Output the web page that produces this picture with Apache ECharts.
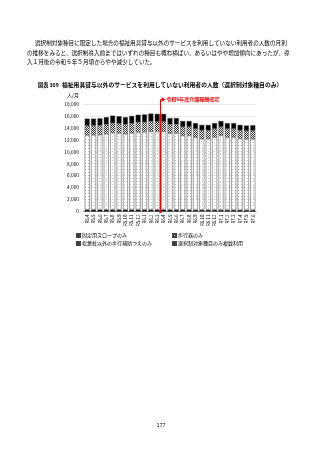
<!DOCTYPE html>
<html><head><meta charset="utf-8">
<script src="https://cdn.jsdelivr.net/npm/echarts@6/dist/echarts.min.js"></script>
<style>html,body{margin:0;padding:0;background:#fff}#c{width:320px;height:453px}</style>
</head><body><div id="c"></div>
<script>
const categories = ['R5.4','R5.5','R5.6','R5.7','R5.8','R5.9','R5.10','R5.11','R5.12','R6.1','R6.2','R6.3','R6.4','R6.5','R6.6','R6.7','R6.8','R6.9','R6.10','R6.11','R6.12','R7.1','R7.2','R7.3','R7.4','R7.5','R7.6'];
const slopeOnly = [300,300,300,300,310,300,300,300,310,310,310,310,310,290,290,280,280,270,270,270,270,270,260,260,260,250,250];
const walkerOnly = [12500,12520,12550,12690,12890,12830,12700,12840,12990,13020,13120,13090,13080,12830,12850,12440,12460,12170,11910,11910,12180,12490,12200,12210,11960,11880,11920];
const caneOnly = [1550,1550,1550,1580,1600,1580,1570,1600,1620,1620,1650,1640,1640,1480,1470,1430,1420,1400,1380,1380,1390,1400,1380,1380,1350,1350,1350];
const multiUse = [1200,1180,1200,1230,1250,1240,1230,1260,1280,1300,1320,1310,1320,1050,1040,1000,990,960,940,940,960,990,960,950,930,920,930];
const seriesNames = ['固定用スロープのみ','歩行器のみ','松葉杖以外の歩行補助つえのみ','選択制対象種目のみ複数利用'];
const yTicks = {min:0, max:18000, interval:2000};
const revisionLabel = '令和6年度介護報酬改定';
const revisionPos = 11.5; // between R6.3 and R6.4
const revisionTop = 18500;

const paragraph = [
  '選択制対象種目に限定した場合の福祉用具貸与以外のサービスを利用していない利用者の人数の月別',
  'の推移をみると、選択制導入前まではいずれの種目も概ね横ばい、あるいはやや増加傾向にあったが、導',
  '入１月後の令和６年５月頃からやや減少していた。'
];
const figNo = '図表 309';
const figTitle = '福祉用具貸与以外のサービスを利用していない利用者の人数（選択制対象種目のみ）';
const unitLabel = '人/月';
const pageNo = '177';

function pattern(w,h,draw){const c=document.createElement('canvas');c.width=w;c.height=h;const x=c.getContext('2d');draw(x);return {image:c,repeat:'repeat'};}
const dotPat = pattern(3,3,x=>{x.fillStyle='#fff';x.fillRect(0,0,3,3);x.fillStyle='#c4c4c4';x.fillRect(1,1,1,1);});
const checkPat = pattern(2,2,x=>{x.fillStyle='#fff';x.fillRect(0,0,2,2);x.fillStyle='#333';x.fillRect(0,0,1,1);x.fillRect(1,1,1,1);});

const FONT = '"Noto Sans CJK JP", sans-serif';
const chart = echarts.init(document.getElementById('c'), null, {renderer:'canvas'});
const colors = ['#000', dotPat, checkPat, '#000'];
const vals = [slopeOnly, walkerOnly, caneOnly, multiUse];

const barSeries = seriesNames.map((n,i)=>({
  name:n, type:'bar', stack:'t', data:vals[i], barCategoryGap:'22%',
  itemStyle:{color:colors[i], borderColor:'#444', borderWidth:0.5},
  emphasis:{disabled:true}, animation:false
}));

const GL = 84, GR = 64, GB = 241.5;
const option = {
  animation:false,
  textStyle:{fontFamily:FONT},
  grid:[{left:GL, right:GR, top:104, bottom:GB},{left:GL, right:GR, top:96.5, bottom:GB}],
  xAxis:[
    {type:'category', data:categories, axisTick:{show:false},
     axisLine:{lineStyle:{color:'#808080', width:1}},
     axisLabel:{rotate:90, fontSize:4.5, color:'#000', margin:3, interval:0, fontFamily:FONT}},
    {type:'value', gridIndex:1, min:-0.5, max:categories.length-0.5, show:false}
  ],
  yAxis:[{type:'value', min:yTicks.min, max:yTicks.max, interval:yTicks.interval,
    axisLine:{show:false}, axisTick:{show:false},
    splitLine:{lineStyle:{color:'#d9d9d9', width:0.6}},
    axisLabel:{fontSize:4.8, color:'#000', margin:5, fontFamily:FONT,
      formatter:v=>v.toLocaleString('en-US')}},
    {type:'value', gridIndex:1, min:0, max:19000, show:false}],
  legend:[
    {data:[seriesNames[0], seriesNames[2]], orient:'vertical', left:76, top:233,
     itemWidth:3, itemHeight:3, itemGap:3, icon:'rect', textStyle:{fontSize:5, color:'#000', fontFamily:FONT, padding:[0,0,0,-3]}, padding:0},
    {data:[seriesNames[1], seriesNames[3]], orient:'vertical', left:172, top:233,
     itemWidth:3, itemHeight:3, itemGap:3, icon:'rect', textStyle:{fontSize:5, color:'#000', fontFamily:FONT, padding:[0,0,0,-3]}, padding:0}
  ],
  series:[...barSeries,
    {type:'line', xAxisIndex:1, yAxisIndex:1, data:[], silent:true, clip:false,
     markLine:{silent:true, animation:false,
       data:[
         [{coord:[revisionPos,0], symbol:'circle', symbolSize:3},{coord:[revisionPos,revisionTop], symbol:'none'}],
         [{coord:[revisionPos,revisionTop], symbol:'none'},{coord:[revisionPos+0.75,revisionTop], symbol:'arrow', symbolSize:4,
           label:{show:true, position:'end', formatter:revisionLabel, color:'#ff0000', fontSize:5, fontWeight:'bold', distance:1, fontFamily:FONT}}]
       ],
       lineStyle:{color:'#ff0000', width:1, type:'solid'},
       label:{show:false}
     }}
  ],
  graphic:[
    ...paragraph.map((t,i)=>({type:'text', left: i===0?35:27, top:40.5+i*9.2,
      style:{text:t, font:'5.6px '+FONT, fill:'#000'}})),
    {type:'text', left:38, top:82.6, style:{text:figNo, font:'bold 5.2px '+FONT, fill:'#000'}},
    {type:'text', left:62, top:82.3, style:{text:figTitle, font:'bold 5.8px '+FONT, fill:'#000'}},
    {type:'text', left:67, top:92.5, style:{text:unitLabel, font:'5px '+FONT, fill:'#000'}},
    {type:'text', left:156.5, top:422, style:{text:pageNo, font:'5.5px '+FONT, fill:'#000'}}
  ]
};
chart.setOption(option);
</script></body></html>
